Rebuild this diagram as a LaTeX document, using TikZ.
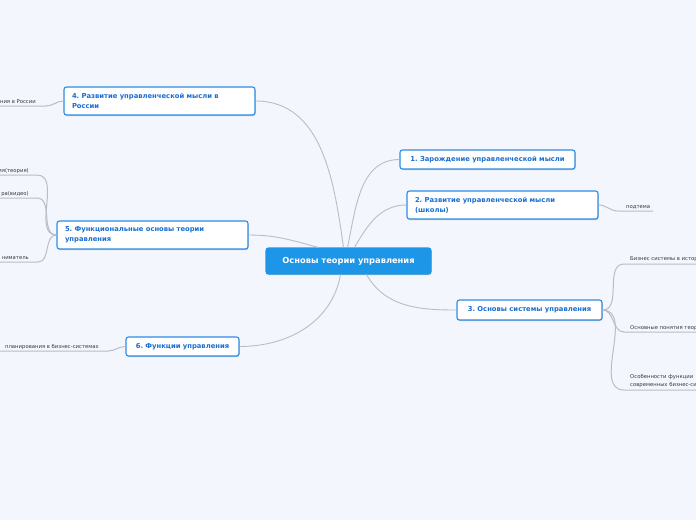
\documentclass[tikz,border=0pt]{standalone}
\usepackage{fontspec}
\setmainfont{DejaVu Sans}
\usetikzlibrary{shadows}
\definecolor{bg}{RGB}{243,246,253}
\definecolor{nodeblue}{RGB}{45,140,230}
\definecolor{textblue}{RGB}{25,110,210}
\definecolor{centerblue}{RGB}{30,150,232}
\definecolor{linegray}{RGB}{184,189,201}
\definecolor{subtext}{RGB}{55,55,60}
\frenchspacing
\begin{document}
\begin{tikzpicture}[x=1pt,y=-1pt,
  topic/.style={draw=nodeblue, fill=white, line width=1.1pt, rounded corners=2.5pt,
    text=textblue, font=\fontsize{6.8}{10}\selectfont\bfseries, inner xsep=8pt, inner ysep=0pt,
    drop shadow={shadow xshift=0.5pt, shadow yshift=-1pt, opacity=0.2, fill=black}},
  topictwo/.style={topic, text width=175pt, align=left, minimum height=28pt},
  centre/.style={topic, fill=centerblue, draw=centerblue, text=white,
    font=\fontsize{8.3}{10}\selectfont\bfseries, minimum width=165pt, minimum height=26pt},
  sub/.style={font=\fontsize{5.3}{6.5}\selectfont, text=subtext, inner sep=0pt},
  conn/.style={draw=linegray, line width=0.9pt},
  subconn/.style={draw=linegray, line width=1pt}]
\clip (0,0) rectangle (696,520);
\fill[bg] (0,0) rectangle (696,520);

% main nodes
\node[centre] (c) at (348.5,261) {Основы теории управления};
\node[topic, minimum width=175pt, minimum height=19pt] (n1) at (487.5,159.5) {1. Зарождение управленческой мысли};
\node[topictwo] (n2) at (502.5,205) {2. Развитие управленческой мысли\\(школы)};
\node[topic, minimum width=145pt, minimum height=20pt] (n3) at (529.5,310) {3. Основы системы управления};
\node[topictwo] (n4) at (159.5,101) {4. Развитие управленческой мысли в\\России};
\node[topictwo] (n5) at (152.5,235) {5. Функциональные основы теории\\управления};
\node[topic, minimum width=113pt, minimum height=19pt] (n6) at (182.5,346.5) {6. Функции управления};

% connectors from centre
\draw[conn] ([xshift=-5pt]c.north) to[out=98,in=0] (n4.east);
\draw[conn] ([xshift=-1pt]c.north) to[out=78,in=180] (n1.west);
\draw[conn] ([xshift=6pt]c.north) to[out=60,in=180] (n2.west);
\draw[conn] ([xshift=-30pt]c.north) to[out=165,in=0] (n5.east);
\draw[conn] ([xshift=-8pt]c.south) to[out=-100,in=0] (n6.east);
\draw[conn] ([xshift=18pt]c.south) to[out=-60,in=180] (n3.west);

% subtopics
\coordinate (u4) at (46,106); \coordinate (e4) at (0,106);
\coordinate (u51) at (37,175); \coordinate (e51) at (0,175);
\coordinate (u52) at (37,198); \coordinate (e52) at (0,198);
\coordinate (u53) at (38,262); \coordinate (e53) at (0,262);
\coordinate (u6) at (108,351); \coordinate (e6) at (0,351);
\coordinate (u2) at (618,211); \coordinate (e2) at (653,211);
\coordinate (u31) at (624,264); \coordinate (e31) at (696,264);
\coordinate (u32) at (624,332); \coordinate (e32) at (696,332);
\coordinate (u33) at (624,390); \coordinate (e33) at (696,390);

\draw[subconn] (n4.west) to[out=180,in=0] (u4) -- (e4);
\draw[subconn] (n5.west) to[out=180,in=0] (u51) -- (e51);
\draw[subconn] (n5.west) to[out=180,in=0] (u52) -- (e52);
\draw[subconn] (n5.west) to[out=180,in=0] (u53) -- (e53);
\draw[subconn] (n6.west) to[out=180,in=0] (u6) -- (e6);
\draw[subconn] (n2.east) to[out=0,in=180] (u2) -- (e2);
\draw[subconn] (n3.east) to[out=0,in=180] (u31) -- (e31);
\draw[subconn] (n3.east) to[out=0,in=180] (u32) -- (e32);
\draw[subconn] (n3.east) to[out=0,in=180] (u33) -- (e33);

\node[sub, anchor=base east] (s4) at (36,103) {ния в России};
\node[sub, anchor=base east] (s51) at (29,172) {ия(теория)};
\node[sub, anchor=base east] (s52) at (29,195) {ра(видео)};
\node[sub, anchor=base east] (s53) at (29,259) {ниматель};
\node[sub, anchor=base east] (s6) at (99,348) {планирования в бизнес-системах};
\node[sub, anchor=base west] (s2) at (626,208) {подтема};
\node[sub, anchor=base west] (s31) at (630,260) {Бизнес системы в истор};
\node[sub, anchor=base west] (s32) at (630,329) {Основные понятия теор};
\node[sub, anchor=base west] (s33a) at (630,378) {Особенности функции};
\node[sub, anchor=base west] (s33b) at (630,386) {современных бизнес-си};
\end{tikzpicture}
\end{document}
